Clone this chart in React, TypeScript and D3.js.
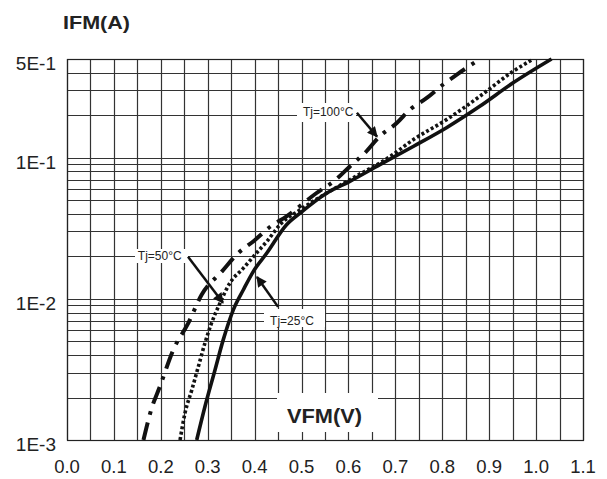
import { useEffect, useRef } from "react"
import * as d3 from "d3"

// forward voltage (V) / forward current (A)
const vf25 = [0.2765, 0.294, 0.3155, 0.333, 0.3545, 0.376, 0.397, 0.426, 0.468, 0.497, 0.554, 0.603, 0.667, 0.738, 0.809, 0.88, 0.951, 1.033]
const if25 = [0.001, 0.00172, 0.00313, 0.00512, 0.00836, 0.0116, 0.0156, 0.0211, 0.0335, 0.0405, 0.0562, 0.068, 0.0892, 0.12, 0.163, 0.231, 0.339, 0.5]

const vf50 = [0.241, 0.2515, 0.266, 0.28, 0.294, 0.308, 0.326, 0.347, 0.376, 0.404, 0.426, 0.454, 0.497, 0.603, 0.689, 0.738, 0.809, 0.88, 0.951, 0.994]
const if50 = [0.001, 0.00155, 0.00226, 0.00331, 0.00485, 0.00672, 0.0093, 0.0129, 0.0165, 0.0211, 0.0255, 0.0335, 0.0427, 0.0698, 0.102, 0.134, 0.186, 0.272, 0.409, 0.5]

const vf100 = [0.163, 0.1805, 0.198, 0.2265, 0.2585, 0.287, 0.33, 0.365, 0.397, 0.433, 0.468, 0.532, 0.571, 0.603, 0.635, 0.667, 0.703, 0.731, 0.767, 0.802, 0.834, 0.88]
const if100 = [0.001, 0.00168, 0.00239, 0.00435, 0.00672, 0.0107, 0.0156, 0.0211, 0.0255, 0.0324, 0.0384, 0.0562, 0.069, 0.0867, 0.108, 0.142, 0.176, 0.219, 0.265, 0.33, 0.394, 0.5]

const xTicks = [0, 0.1, 0.2, 0.3, 0.4, 0.5, 0.6, 0.7, 0.8, 0.9, 1.0, 1.1]
const yTicks = [0.5, 0.1, 0.01, 0.001]
const yTickLabels = ["5E-1", "1E-1", "1E-2", "1E-3"]

// label text, label anchor (V, A), arrow from/to (V, A)
const labels = ["Tj=100°C", "Tj=50°C", "Tj=25°C"]
const labelPos = [[0.503, 0.197], [0.151, 0.0188], [0.433, 0.0065]]
const arrowFrom = [[0.618, 0.208], [0.258, 0.0199], [0.45, 0.00877]]
const arrowTo = [[0.661, 0.141], [0.3325, 0.00937], [0.405, 0.0143]]

const W = 607
const H = 479
const left = 67
const right = 583
const top = 59
const bottom = 440

const App = () => {
  const ref = useRef<SVGSVGElement>(null)

  useEffect(() => {
    if (!ref.current) return
    const svg = d3.select(ref.current)
    svg.selectAll("*").remove()

    const x = d3.scaleLinear().domain([0, 1.1]).range([left, right])
    const y = d3.scaleLog().domain([0.001, 0.5]).range([bottom, top])

    const defs = svg.append("defs")
    defs
      .append("marker")
      .attr("id", "head")
      .attr("viewBox", "0 0 10 10")
      .attr("refX", 9)
      .attr("refY", 5)
      .attr("markerWidth", 5)
      .attr("markerHeight", 4.2)
      .attr("markerUnits", "strokeWidth")
      .attr("orient", "auto")
      .append("path")
      .attr("d", "M0,0L10,5L0,10Z")
      .attr("fill", "#111")

    const grid = svg.append("g").attr("stroke", "#333").attr("stroke-width", 1.2)

    // vertical grid every 0.05 V
    d3.range(0, 23).forEach((i) => {
      const gx = Math.round(x(i * 0.05)) + 0.5
      grid.append("line").attr("x1", gx).attr("x2", gx).attr("y1", top).attr("y2", bottom)
    })

    // log grid
    const minor: number[] = []
    ;[0.001, 0.01, 0.1].forEach((d) => {
      for (let k = 1; k <= 9; k++) if (d * k <= 0.5) minor.push(d * k)
    })
    minor.push(0.5)
    minor.forEach((v) => {
      const gy = Math.round(y(v)) + 0.5
      grid.append("line").attr("x1", left).attr("x2", right).attr("y1", gy).attr("y2", gy)
    })

    grid
      .append("rect")
      .attr("x", left + 0.5)
      .attr("y", Math.round(y(0.5)) + 0.5)
      .attr("width", Math.round(right - left))
      .attr("height", Math.round(bottom - y(0.5)))
      .attr("fill", "none")
      .attr("stroke", "#222")

    // white boxes behind labels
    const boxes = [
      [297, 103, 59, 19],
      [135, 249, 53, 14],
      [264, 309, 61, 18],
      [277, 393, 101, 39],
    ]
    boxes.forEach((b) => {
      svg.append("rect").attr("x", b[0]).attr("y", b[1]).attr("width", b[2]).attr("height", b[3]).attr("fill", "#fff")
    })

    const line = d3
      .line<[number, number]>()
      .x((d) => x(d[0]))
      .y((d) => y(d[1]))
      .curve(d3.curveMonotoneX)

    const series = [
      { v: vf25, i: if25, dash: null, w: 3.6 },
      { v: vf50, i: if50, dash: "3,2.4", w: 3.6 },
      { v: vf100, i: if100, dash: "18,8,3.5,8", w: 4 },
    ]
    series.forEach((s) => {
      const pts = s.v.map((v, k) => [v, s.i[k]] as [number, number])
      const p = svg
        .append("path")
        .attr("d", line(pts))
        .attr("fill", "none")
        .attr("stroke", "#111")
        .attr("stroke-width", s.w)
      if (s.dash) p.attr("stroke-dasharray", s.dash)
    })

    // arrows
    arrowFrom.forEach((f, k) => {
      svg
        .append("line")
        .attr("x1", x(f[0]))
        .attr("y1", y(f[1]))
        .attr("x2", x(arrowTo[k][0]))
        .attr("y2", y(arrowTo[k][1]))
        .attr("stroke", "#111")
        .attr("stroke-width", 2.5)
        .attr("marker-end", "url(#head)")
    })

    labels.forEach((t, k) => {
      svg
        .append("text")
        .attr("x", x(labelPos[k][0]))
        .attr("y", y(labelPos[k][1]))
        .attr("font-family", "Liberation Sans, Arial, sans-serif")
        .attr("font-size", 12)
        .attr("fill", "#222")
        .text(t)
    })

    // axis labels
    svg
      .selectAll(".xt")
      .data(xTicks)
      .enter()
      .append("text")
      .attr("x", (d) => x(d))
      .attr("y", 473)
      .attr("text-anchor", "middle")
      .attr("font-family", "Liberation Sans, Arial, sans-serif")
      .attr("font-size", 18.5)
      .attr("fill", "#222")
      .text((d) => d.toFixed(1))

    svg
      .selectAll(".yt")
      .data(yTicks)
      .enter()
      .append("text")
      .attr("x", 56)
      .attr("y", (d) => y(d) + 11)
      .attr("text-anchor", "end")
      .attr("font-family", "Liberation Sans, Arial, sans-serif")
      .attr("font-size", 19)
      .attr("fill", "#222")
      .text((_, k) => yTickLabels[k])

    svg
      .append("text")
      .attr("x", 63)
      .attr("y", 29)
      .attr("font-family", "Liberation Sans, Arial, sans-serif")
      .attr("font-weight", "bold")
      .attr("font-size", 19)
      .attr("textLength", 67)
      .attr("lengthAdjust", "spacingAndGlyphs")
      .attr("fill", "#222")
      .text("IFM(A)")

    svg
      .append("text")
      .attr("x", 287)
      .attr("y", 423)
      .attr("font-family", "Liberation Sans, Arial, sans-serif")
      .attr("font-weight", "bold")
      .attr("font-size", 21)
      .attr("textLength", 75)
      .attr("lengthAdjust", "spacingAndGlyphs")
      .attr("fill", "#222")
      .text("VFM(V)")
  }, [])

  return (
    <svg
      ref={ref}
      width={W}
      height={H}
      style={{ position: "absolute", left: 0, top: 0, background: "#fff" }}
    />
  )
}

export default App
